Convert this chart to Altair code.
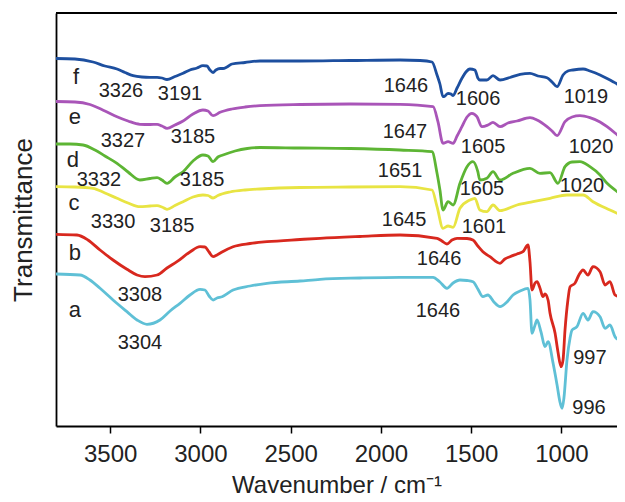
import altair as alt
import pandas as pd

# Wavenumber (cm-1) and transmittance (arbitrary, offset)
wn_a = [3800,3667,3612,3556,3484,3407,3351,3296,3224,3168,3113,3058,3002,2975,2952,2930,2908,2880,2819,2725,2631,2448,2337,2116,1894,1711,1673,1634,1600,1562,1523,1490,1463,1435,1407,1374,1340,1302,1268,1229,1185,1174,1163,1146,1135,1113,1091,1074,1046,1024,1008,996,986,969,952,941,914,880,853,825,786,758,731,703,675,648]
t_a = [152,151,146,137.7,126,114.3,106,101.7,106,115,122.7,131,136.7,136,130,126,128,129.3,136,140,142.7,145,146.7,148,148.7,148.7,144,137.7,143,146,145.5,144.3,137,129.3,131,124,119.3,124,131,135,137.7,126,92.7,101,106,94,79.3,84.3,62.7,41,24,17.7,28,66,88,96,99.3,112.7,106,114.3,109.3,97.7,101,89.3,85,81]

wn_b = [3800,3684,3623,3556,3484,3407,3351,3307,3240,3185,3130,3058,3002,2975,2952,2930,2908,2880,2819,2725,2631,2448,2337,2116,1894,1689,1662,1634,1606,1578,1523,1490,1463,1435,1396,1340,1313,1285,1246,1213,1185,1174,1163,1146,1135,1119,1102,1091,1074,1063,1035,1019,1002,991,980,964,952,925,903,880,853,825,786,758,731,703,675,648]
t_b = [191.7,191,186,176,166,156.7,151,149.3,151,158,164.3,174,179.3,179,174,169.3,171,174,179.3,182.5,184.3,186.5,187.7,189.5,191,187.7,185,182,186,187.7,187.5,186,180,174.3,169.3,162.7,167,169.3,172,174.3,181,164,136,143,144.3,138,129.3,132,126,112.7,92.7,74,59.3,66,96,126,139.3,142.7,151,156,151,159.3,154.3,141,144.3,131,129,126]

wn_c = [3800,3695,3595,3529,3462,3401,3335,3279,3240,3213,3185,3141,3096,3041,2986,2958,2930,2903,2836,2753,2670,2448,2171,1894,1717,1689,1656,1628,1600,1562,1507,1479,1452,1413,1379,1340,1246,1157,1063,969,880,825,731,648]
t_c = [239.3,239,237.7,233,227.7,223,219.3,220,220.3,219,216.7,220.5,224.3,229,231,230.5,228,230.5,234,236,237,238.5,239,239.3,236,219.3,197.7,200,198.7,217.7,226,227.7,216,214.3,221,215.3,221,224.3,227.7,231,231,224.3,216,209.3]

wn_d = [3800,3722,3650,3584,3529,3462,3401,3335,3279,3240,3213,3185,3141,3096,3041,2986,2958,2930,2903,2875,2808,2740,2670,2448,2171,1894,1717,1689,1673,1656,1628,1600,1562,1523,1490,1463,1452,1413,1379,1340,1268,1174,1119,1063,1019,980,941,897,842,786,747,703,648]
t_d = [282,282,281,276,270,262.7,254,246,247.5,248.3,246,242.7,249,254.3,265,271,270,264.3,269,271,275,277.5,278.5,278,277.5,276,274.3,252.7,236,216,224.3,221,242.7,259.3,264.3,254.3,246,247.7,254.3,246,252.7,257.7,252.7,253.3,242.7,259.3,264,264.3,259.3,251,242.7,236,229.3]

wn_e = [3800,3695,3612,3529,3462,3401,3335,3279,3240,3213,3185,3141,3096,3041,2986,2958,2930,2891,2825,2753,2670,2448,2171,1894,1711,1684,1656,1628,1600,1578,1551,1523,1496,1468,1440,1407,1379,1340,1296,1246,1174,1135,1080,1052,1024,980,941,897,842,786,747,703,648]
t_e = [324.5,324,321.5,315,309.3,305,301.7,301.5,301.7,300,297.7,301,305,312,316,315,310.3,313.7,317,319,320.3,321.5,322,321.7,319.3,304.3,282.7,284.3,282.7,290,299.3,309,312.7,309.3,299.3,301,303.7,299.3,303,305,308.3,306,299.3,295,290.3,304.3,309,310.3,308.3,304,299.3,293,284.3]

wn_f = [3800,3695,3595,3529,3462,3418,3373,3324,3279,3240,3213,3185,3141,3096,3058,3019,2986,2964,2947,2930,2914,2891,2875,2853,2825,2753,2670,2448,2171,1894,1783,1717,1689,1673,1656,1645,1628,1612,1600,1578,1551,1529,1507,1479,1463,1452,1413,1379,1340,1285,1229,1174,1130,1080,1052,1024,991,964,936,880,842,786,747,714,675,648]
t_f = [367.5,367,364,360,357,353.5,350.3,349,348.7,348.7,348,346.5,349.5,352.7,356,358,360.3,360,356,353.5,356,357.5,357.5,359,362,363.5,365,365,365.5,366,365.5,364,351,342,329.3,330,332.7,332,330.5,338,347.7,354,357,356,348,346,346,350.3,346,348.5,351.7,352.7,350,348.3,344,339.3,351,355,356,357,355,351,347.5,344.3,340,336]

series = {"a": (wn_a, t_a), "b": (wn_b, t_b), "c": (wn_c, t_c),
          "d": (wn_d, t_d), "e": (wn_e, t_e), "f": (wn_f, t_f)}
sample_names = ["a", "b", "c", "d", "e", "f"]
sample_colors = ["#5fc0d6", "#d8281e", "#e8e443", "#5db534", "#a955b8", "#1d4f9f"]

# curve letters
letter_text = ["f", "e", "d", "c", "b", "a"]
letter_wn = [3689, 3695, 3706, 3700, 3695, 3695]
letter_t = [349, 309, 266, 223, 173, 116]

# peak annotations
peak_text = ["3326", "3191", "3327", "3185", "3332", "3185", "3330", "3185", "3308", "3304",
             "1646", "1606", "1019", "1647", "1605", "1020", "1651", "1605", "1020",
             "1645", "1601", "1646", "1646", "997", "996"]
peak_wn = [3440, 3113, 3429, 3041, 3562, 2991, 3484, 3157, 3335, 3335,
           1861, 1462, 864, 1867, 1434, 836, 1894, 1440, 886,
           1872, 1429, 1678, 1684, 842, 847]
peak_t = [335, 332, 285, 289, 246, 246, 204, 200, 131, 83,
          340, 327, 329, 294, 279, 279, 255, 237, 240,
          206, 199, 167, 115, 68, 18]

tick_values = [3500, 3000, 2500, 2000, 1500, 1000]

rows = []
for name in sample_names:
    wn, t = series[name]
    for w, v in zip(wn, t):
        rows.append({"sample": name, "wn": w, "T": v})
df = pd.DataFrame(rows)
letters = pd.DataFrame({"label": letter_text, "wn": letter_wn, "T": letter_t})
peaks = pd.DataFrame({"label": peak_text, "wn": peak_wn, "T": peak_t})

W, H = 561, 413
FONT = "Liberation Sans"

xscale = alt.Scale(domain=[3800, 692], nice=False, zero=False)
yscale = alt.Scale(domain=[0, 413], nice=False, zero=False)

xenc = alt.X("wn:Q", scale=xscale,
             axis=alt.Axis(title="Wavenumber / cm\u207b\u00b9", values=tick_values, format="d",
                           grid=False, domainColor="black", domainWidth=1.8,
                           tickColor="black", tickWidth=1.5, tickSize=7,
                           labelFont=FONT, labelFontSize=24, labelColor="#222",
                           labelPadding=9, titleFont=FONT, titleFontSize=24,
                           titleFontWeight="normal", titleColor="#222", titlePadding=7))
yenc = alt.Y("T:Q", scale=yscale,
             axis=alt.Axis(title="Transmittance", labels=False, ticks=False, grid=False,
                           domainColor="black", domainWidth=1.8,
                           titleFont=FONT, titleFontSize=26, titleFontWeight="normal",
                           titleColor="#222", titlePadding=20))

lines = alt.Chart(df).mark_line(strokeWidth=2.8, clip=True, interpolate="monotone").encode(
    x=xenc, y=yenc,
    color=alt.Color("sample:N", scale=alt.Scale(domain=sample_names, range=sample_colors), legend=None),
    detail="sample:N",
)

letter_layer = alt.Chart(letters).mark_text(font=FONT, fontSize=22, color="#222",
                                            align="center", baseline="middle").encode(
    x=alt.X("wn:Q", scale=xscale), y=alt.Y("T:Q", scale=yscale), text="label:N")

peak_layer = alt.Chart(peaks).mark_text(font=FONT, fontSize=20, color="#222",
                                        align="center", baseline="middle").encode(
    x=alt.X("wn:Q", scale=xscale), y=alt.Y("T:Q", scale=yscale), text="label:N")

top_border = alt.Chart(pd.DataFrame({"k": [0]})).mark_rule(color="black", strokeWidth=1.8).encode(
    y=alt.value(0), x=alt.value(0), x2=alt.value(W))

chart = alt.layer(lines, letter_layer, peak_layer, top_border).properties(
    width=W, height=H,
    autosize=alt.AutoSizeParams(type="none"),
    padding={"left": 48, "top": 5, "right": 0, "bottom": 76},
    background="white",
).configure_view(stroke=None)

chart.save("out.html", embed_options={"renderer": "svg", "actions": False})
